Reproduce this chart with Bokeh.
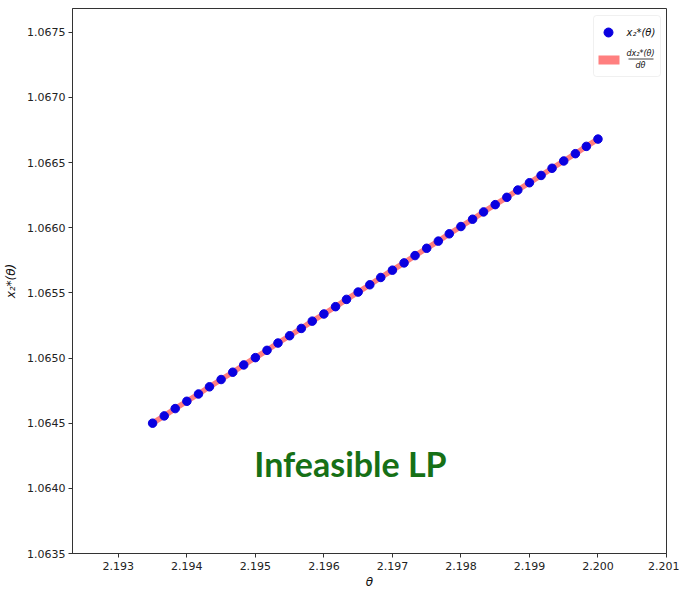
from bokeh.plotting import figure
from bokeh.models import (ColumnDataSource, FixedTicker, PrintfTickFormatter,
                          Label, BoxAnnotation, Range1d)
from bokeh.embed import file_html
from bokeh.resources import INLINE

# theta sweep and the optimal value x2*(theta)
theta = [2.19350, 2.19367, 2.19383, 2.19400, 2.19417, 2.19433, 2.19450, 2.19467,
         2.19483, 2.19500, 2.19517, 2.19533, 2.19550, 2.19567, 2.19583, 2.19600,
         2.19617, 2.19633, 2.19650, 2.19667, 2.19683, 2.19700, 2.19717, 2.19733,
         2.19750, 2.19767, 2.19783, 2.19800, 2.19817, 2.19833, 2.19850, 2.19867,
         2.19883, 2.19900, 2.19917, 2.19933, 2.19950, 2.19967, 2.19983, 2.20000]
x2_opt = [1.064500, 1.064556, 1.064612, 1.064668, 1.064724, 1.064779, 1.064835,
          1.064891, 1.064947, 1.065003, 1.065059, 1.065115, 1.065171, 1.065227,
          1.065283, 1.065338, 1.065394, 1.065450, 1.065506, 1.065562, 1.065618,
          1.065674, 1.065730, 1.065786, 1.065842, 1.065897, 1.065953, 1.066009,
          1.066065, 1.066121, 1.066177, 1.066233, 1.066289, 1.066345, 1.066401,
          1.066456, 1.066512, 1.066568, 1.066624, 1.066680]

x_ticks = [2.193, 2.194, 2.195, 2.196, 2.197, 2.198, 2.199, 2.200, 2.201]
y_ticks = [1.0635, 1.0640, 1.0645, 1.0650, 1.0655, 1.0660, 1.0665, 1.0670, 1.0675]

X0, X1 = 2.192331, 2.201
Y0, Y1 = 1.0635, 1.067682

W, H = 679, 593
FL, FR, FT, FB = 72, 666, 8, 553  # frame edges on the canvas


def px_x(px):
    return X0 + (px - FL) / (FR - FL) * (X1 - X0)


def px_y(py):
    return Y1 - (py - FT) / (FB - FT) * (Y1 - Y0)


p = figure(width=W, height=H, output_backend="svg", toolbar_location=None,
           x_range=Range1d(X0, X1), y_range=Range1d(Y0, Y1),
           min_border_left=FL, min_border_right=W - FR,
           min_border_top=FT, min_border_bottom=H - FB)
p.background_fill_color = "white"
p.border_fill_color = "white"
p.grid.visible = False
p.outline_line_color = "#333333"
p.outline_line_width = 1

for ax in (p.xaxis, p.yaxis):
    ax.axis_line_color = "#333333"
    ax.major_tick_line_color = "#333333"
    ax.major_tick_out = 4
    ax.major_tick_in = 0
    ax.minor_tick_line_color = None
    ax.major_label_text_font = "DejaVu Sans"
    ax.major_label_text_font_size = "11px"
    ax.major_label_text_color = "#222222"
    ax.axis_label_text_font = "DejaVu Sans"
    ax.axis_label_text_font_style = "italic"
    ax.axis_label_text_font_size = "12px"
    ax.axis_label_text_color = "#111111"

p.xaxis.ticker = FixedTicker(ticks=x_ticks)
p.xaxis.formatter = PrintfTickFormatter(format="%.3f")
p.yaxis.ticker = FixedTicker(ticks=y_ticks)
p.yaxis.formatter = PrintfTickFormatter(format="%.4f")
p.xaxis.axis_label = "θ"
p.yaxis.axis_label = "x₂*(θ)"
p.xaxis.major_label_standoff = 4
p.yaxis.major_label_standoff = 3
p.xaxis.axis_label_standoff = 2
p.yaxis.axis_label_standoff = 6

src = ColumnDataSource(data=dict(theta=theta, x2=x2_opt))

# derivative trace underneath, optimal points on top
p.line("theta", "x2", source=src, line_color="#ff7f7f", line_width=5.5)
p.scatter("theta", "x2", source=src, size=8.5, fill_color="#0a00e0",
          line_color="#0a00e0")

# legend box (kept beneath the legend keys)
p.add_layout(BoxAnnotation(left=px_x(593), right=px_x(660), top=px_y(15),
                           bottom=px_y(76), fill_color="white", fill_alpha=1,
                           line_color="#cccccc", line_width=1, border_radius=3,
                           level="underlay"))
p.scatter([px_x(608)], [px_y(32)], size=9, fill_color="#0a00e0",
          line_color="#0a00e0")
p.add_layout(Label(x=px_x(626), y=px_y(32), text="x₂*(θ)", text_font="DejaVu Sans",
                   text_font_style="italic", text_font_size="10px",
                   text_baseline="middle", text_align="left", text_color="#111111"))
p.add_layout(BoxAnnotation(left=px_x(598), right=px_x(619), top=px_y(55),
                           bottom=px_y(64), fill_color="#ff7f7f", fill_alpha=1,
                           line_color=None))
p.add_layout(Label(x=px_x(640), y=px_y(52.5), text="dx₂*(θ)", text_font="DejaVu Sans",
                   text_font_style="italic", text_font_size="8px",
                   text_baseline="middle", text_align="center", text_color="#111111"))
p.line([px_x(628), px_x(653)], [px_y(58.5), px_y(58.5)], line_color="#111111",
       line_width=0.8)
p.add_layout(Label(x=px_x(640), y=px_y(65), text="dθ", text_font="DejaVu Sans",
                   text_font_style="italic", text_font_size="8px",
                   text_baseline="middle", text_align="center", text_color="#111111"))

# annotation
p.add_layout(Label(x=px_x(350), y=px_y(463), text="Infeasible LP", text_font="Lato",
                   text_font_style="bold", text_font_size="34px",
                   text_align="center", text_baseline="middle",
                   text_color="#167016"))

open("out.html", "w").write(file_html(p, INLINE))
